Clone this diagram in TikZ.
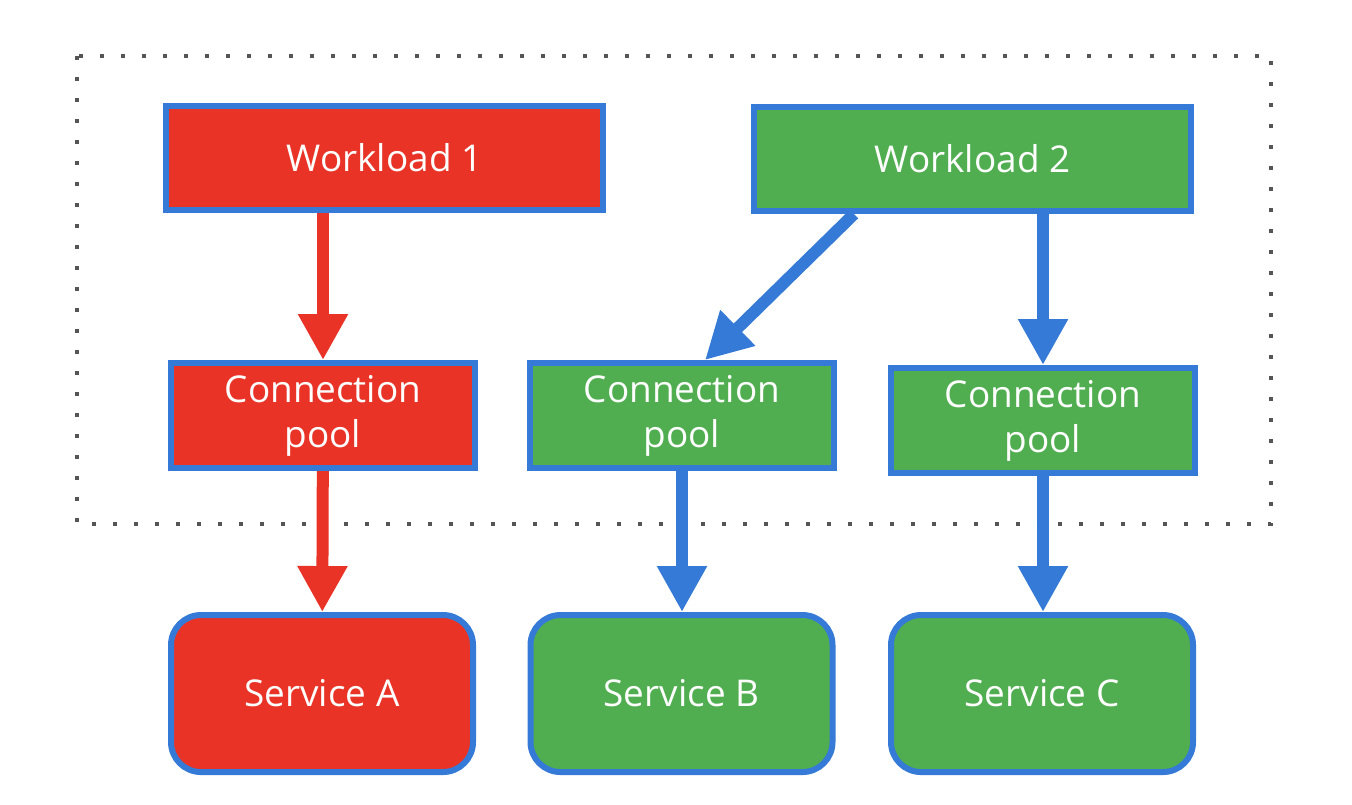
\documentclass[tikz,border=0pt]{standalone}
\usepackage{fontspec}
\setmainfont{Open Sans}
\usetikzlibrary{arrows.meta}

\definecolor{wred}{RGB}{232,51,38}
\definecolor{wgreen}{RGB}{80,174,80}
\definecolor{wblue}{RGB}{53,122,214}
\definecolor{dotgray}{RGB}{85,85,85}

\tikzset{
    box/.style={draw=wblue, line width=0.06cm, inner sep=0pt, align=center,
        text=white, font=\fontsize{10.5}{12.8}\selectfont},
    workload/.style={box, minimum width=4.37cm, minimum height=1.04cm},
    pool/.style={box, minimum width=3.04cm, minimum height=1.05cm},
    service/.style={box, rounded corners=0.3cm, minimum width=3.02cm, minimum height=1.57cm},
    flow/.style={line width=0.12cm, -{Triangle[length=0.46cm, width=0.47cm]}}
}

\begin{document}
\begin{tikzpicture}
    \useasboundingbox (0,0) rectangle (13.52,-8.04);
    % Dotted frame
    \draw[dotgray, line width=0.04cm, dash pattern=on 0.04cm off 0.17cm]
        (0.77,-0.56) rectangle (12.71,-5.24);
    % Workloads
    \node[workload, fill=wred] (w1) at (3.845,-1.58) {Workload 1};
    \node[workload, fill=wgreen] (w2) at (9.725,-1.59) {Workload 2};
    % Connection pools
    \node[pool, fill=wred] (cp1) at (3.23,-4.155) {Connection\\pool};
    \node[pool, fill=wgreen] (cp2) at (6.82,-4.155) {Connection\\pool};
    \node[pool, fill=wgreen] (cp3) at (10.43,-4.205) {Connection\\pool};
    % Services
    \node[service, fill=wred] (sa) at (3.22,-6.935) {Service A};
    \node[service, fill=wgreen] (sb) at (6.815,-6.935) {Service B};
    \node[service, fill=wgreen] (sc) at (10.42,-6.935) {Service C};
    % Arrows
    \draw[flow, wred] (w1.south -| cp1.north) -- (cp1.north);
    \draw[flow, wred] (cp1) -- (sa);
    \draw[flow, wblue] ([xshift=1.03cm]w2.south west) -- ([xshift=0.23cm]cp2.north);
    \draw[flow, wblue] (w2.south -| cp3.north) -- (cp3.north);
    \draw[flow, wblue] (cp2.south) -- (cp2.south |- sb.north);
    \draw[flow, wblue] (cp3.south) -- (cp3.south |- sc.north);
\end{tikzpicture}
\end{document}
